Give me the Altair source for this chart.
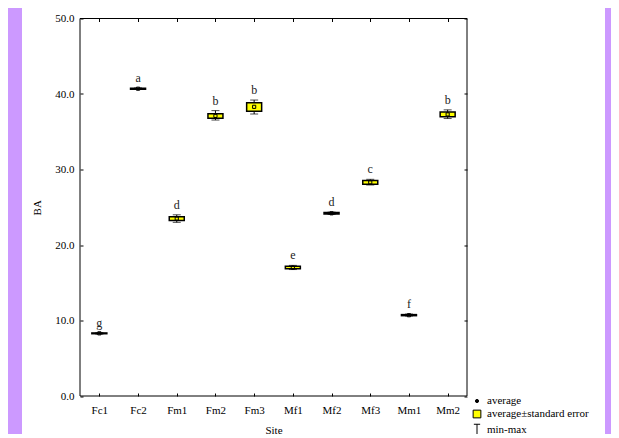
import altair as alt
import pandas as pd

# ---- data ----
sites = ["Fc1", "Fc2", "Fm1", "Fm2", "Fm3", "Mf1", "Mf2", "Mf3", "Mm1", "Mm2"]
avg = [8.3, 40.7, 23.5, 37.1, 38.3, 17.0, 24.2, 28.3, 10.7, 37.3]
se_lo = [8.25, 40.64, 23.25, 36.8, 37.7, 16.85, 24.1, 28.05, 10.64, 37.0]
se_hi = [8.35, 40.76, 23.75, 37.4, 38.85, 17.2, 24.3, 28.55, 10.78, 37.6]
vmin = [8.2, 40.6, 23.0, 36.55, 37.35, 16.75, 24.05, 27.95, 10.6, 36.75]
vmax = [8.4, 40.8, 24.0, 37.8, 39.2, 17.3, 24.35, 28.7, 10.85, 37.9]
letters = ["g", "a", "d", "b", "b", "e", "d", "c", "f", "b"]
y_ticks = [0, 10, 20, 30, 40, 50]
legend_items = ["average", "average\u00b1standard error", "min-max"]

df = pd.DataFrame({"site": sites, "avg": avg, "se_lo": se_lo, "se_hi": se_hi,
                   "vmin": vmin, "vmax": vmax, "letter": letters})
leg_df = pd.DataFrame({"leg": legend_items, "yv": [None, None, None]})
one = pd.DataFrame({"k": [0]})

FONT = "Liberation Serif"
W, H = 387, 377.5

yscale = alt.Scale(domain=[0, 50], nice=False, zero=True)
xscale = alt.Scale(type="point", padding=0.5, domain=sites)

x_axis = alt.Axis(title="Site", labelAngle=0, ticks=False, domain=False, grid=True,
                  gridColor="black", gridOpacity=1, gridWidth=1, gridDash=[3, H - 6],
                  labelFont=FONT, labelFontSize=11, labelColor="black", labelPadding=8,
                  titleFont=FONT, titleFontSize=11, titleFontWeight="normal",
                  titleColor="black", titlePadding=9, zindex=1)
y_axis = alt.Axis(title="BA", values=y_ticks, format=".1f", ticks=False, domain=False,
                  grid=True, gridColor="black", gridOpacity=1, gridWidth=1,
                  gridDash=[3, W - 6], labelFont=FONT, labelFontSize=11,
                  labelColor="black", labelPadding=6, titleFont=FONT, titleFontSize=11,
                  titleFontWeight="normal", titleColor="black", titlePadding=12, zindex=1)

base = alt.Chart(df).encode(x=alt.X("site:N", scale=xscale, axis=x_axis, sort=sites))

panel = alt.Chart(one).mark_rect(fill="white").encode(
    x=alt.value(-58), x2=alt.value(525), y=alt.value(-12), y2=alt.value(440))

whisker = base.mark_rule(color="black", strokeWidth=1).encode(
    y=alt.Y("vmin:Q", scale=yscale, axis=y_axis), y2="vmax:Q")
cap_hi = base.mark_tick(orient="horizontal", size=8, thickness=1, color="black").encode(
    y=alt.Y("vmax:Q", scale=yscale))
cap_lo = base.mark_tick(orient="horizontal", size=8, thickness=1, color="black").encode(
    y=alt.Y("vmin:Q", scale=yscale))
box = base.mark_bar(size=15, fill="#ffff00", stroke="black", strokeWidth=1.5).encode(
    y=alt.Y("se_lo:Q", scale=yscale), y2="se_hi:Q")
mean = base.mark_point(shape="square", size=10, filled=False, color="black",
                       strokeWidth=1, opacity=1).encode(y=alt.Y("avg:Q", scale=yscale))
text = base.mark_text(baseline="bottom", dy=-3, font=FONT, fontSize=12, color="#222").encode(
    y=alt.Y("vmax:Q", scale=yscale), text="letter:N")

frame = alt.Chart(one).mark_rect(fillOpacity=0, stroke="black", strokeWidth=1).encode(
    x=alt.value(0), x2=alt.value("width"), y=alt.value(0), y2=alt.value("height"))

leg = alt.Legend(title=None, orient="none", legendX=391, legendY=377, padding=0,
                 rowPadding=1, labelFont=FONT, labelFontSize=11, labelColor="black",
                 labelOffset=4, symbolStrokeWidth=1)
legend_layer = alt.Chart(leg_df).mark_point(filled=True, opacity=1, strokeWidth=1).encode(
    y=alt.Y("yv:Q", scale=yscale),
    shape=alt.Shape("leg:N", scale=alt.Scale(
        domain=legend_items,
        range=["circle", "square", "M-0.6,-1H0.6M0,-1V1M-0.6,1H0.6"]), legend=leg),
    fill=alt.Fill("leg:N", scale=alt.Scale(domain=legend_items,
                                           range=["black", "#ffff00", "white"]),
                  legend=leg),
    stroke=alt.Stroke("leg:N", scale=alt.Scale(domain=legend_items,
                                               range=["black", "black", "black"]),
                      legend=leg),
    size=alt.Size("leg:N", scale=alt.Scale(domain=legend_items, range=[10, 110, 150]),
                  legend=leg),
)

chart = alt.layer(panel, whisker, cap_hi, cap_lo, box, mean, text, frame, legend_layer).properties(
    width=W, height=H,
    autosize=alt.AutoSizeParams(type="none"),
    padding={"left": 72, "top": 10.5, "right": 144, "bottom": 38},
    background="#cc99ff",
).configure_view(stroke=None)

chart.save("out.html", embed_options={"renderer": "svg", "actions": False})
